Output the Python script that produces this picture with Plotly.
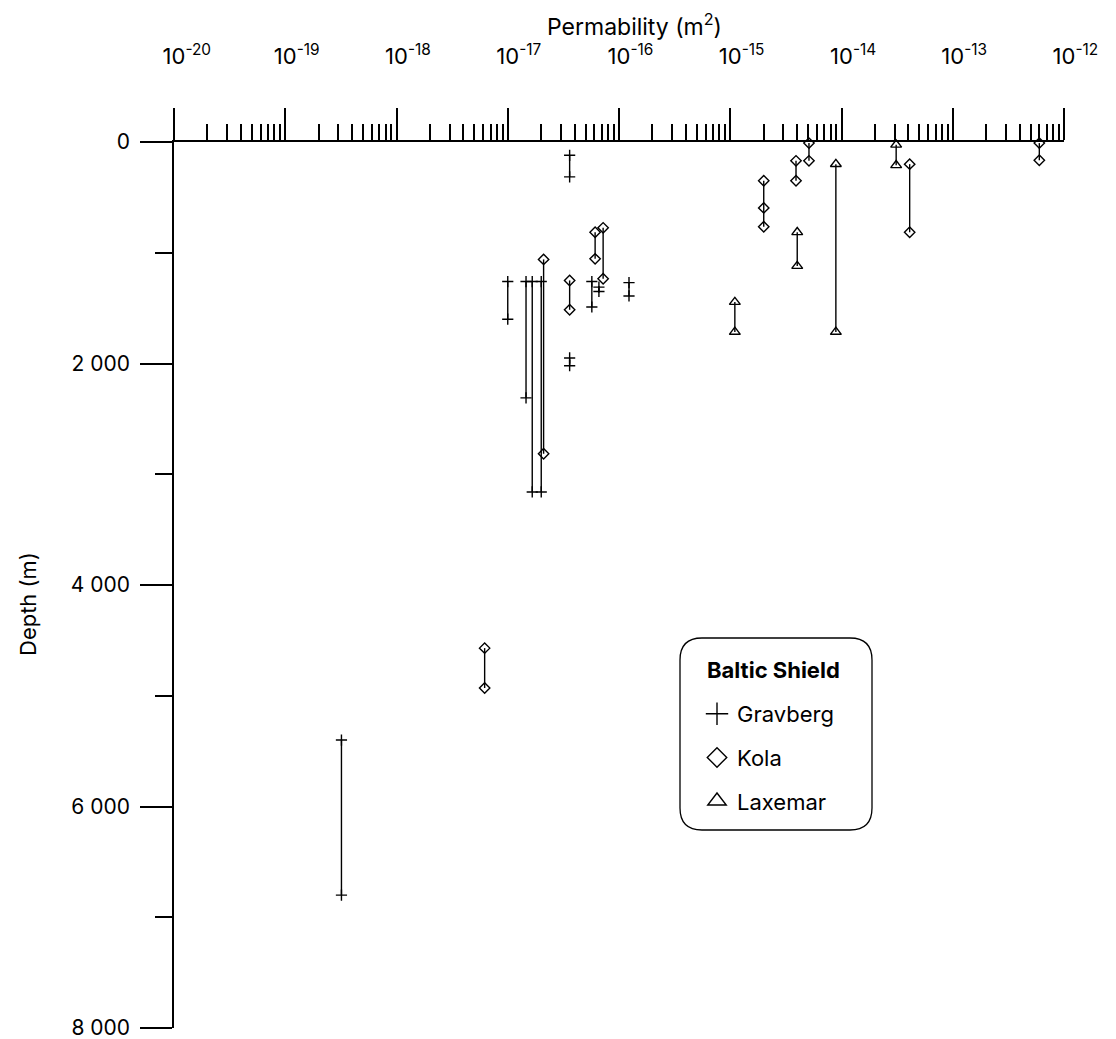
import plotly.graph_objects as go

# ---- data (permeability in m^2, depths in m) ----
gravberg_k = [3.2e-19, 1.0e-17, 1.46e-17, 1.66e-17, 2.0e-17, 3.6e-17, 3.6e-17, 5.7e-17, 6.6e-17, 1.23e-16]
gravberg_depths = [[5400, 6800], [1260, 1600], [1260, 2310], [1260, 3160], [1260, 3160],
                   [120, 315], [1950, 2020], [1260, 1490], [1310, 1350], [1270, 1390]]

kola_k = [6.2e-18, 2.1e-17, 3.6e-17, 6.1e-17, 7.2e-17, 2.0e-15, 3.9e-15, 5.1e-15, 4.1e-14, 6.0e-13]
kola_depths = [[4570, 4930], [1060, 2815], [1250, 1515], [815, 1055], [775, 1235],
               [350, 595, 765], [170, 350], [10, 170], [200, 815], [10, 165]]

laxemar_k = [1.1e-15, 4.0e-15, 8.9e-15, 3.1e-14]
laxemar_depths = [[1445, 1715], [815, 1120], [200, 1715], [25, 210]]

series_names = ["Gravberg", "Kola", "Laxemar"]
legend_title = "Baltic Shield"
x_exponents = [-20, -19, -18, -17, -16, -15, -14, -13, -12]
y_tickvals = [0, 2000, 4000, 6000, 8000]
y_ticktext = ["0", "2 000", "4 000", "6 000", "8 000"]

FONT = "Inter"
symbols = {"Gravberg": ("cross-thin-open", 8), "Kola": ("diamond-open", 8), "Laxemar": ("triangle-up-open", 9.5)}
legend_sizes = {"Gravberg": 16, "Kola": 15, "Laxemar": 16}

fig = go.Figure()
for name, ks, ds in [("Gravberg", gravberg_k, gravberg_depths),
                     ("Kola", kola_k, kola_depths),
                     ("Laxemar", laxemar_k, laxemar_depths)]:
    sym, sz = symbols[name]
    for k, d in zip(ks, ds):
        fig.add_trace(go.Scatter(
            x=[k] * len(d), y=d, mode="lines+markers",
            line=dict(color="black", width=1.4),
            marker=dict(symbol=sym, size=sz, color="black", line=dict(color="black", width=1.4)),
            showlegend=False, cliponaxis=False, legendgroup=name, hoverinfo="x+y"))

for name in series_names:
    sym, _ = symbols[name]
    fig.add_trace(go.Scatter(
        x=[None], y=[None], mode="markers", name=name, legendgroup=name,
        marker=dict(symbol=sym, size=legend_sizes[name], color="black",
                    line=dict(color="black", width=1.4)),
        showlegend=True))

W, H = 1116, 1039
L, R, T, B = 174, 52, 142, 11
pw, ph = W - L - R, H - T - B


def px2paper(px, py):
    return (px - L) / pw, (H - B - py) / ph


# rounded legend box
x0p, y0p, x1p, y1p, rad = 680, 638, 872, 830, 22
def P(px, py):
    a, b = px2paper(px, py)
    return f"{a:.5f},{b:.5f}"
path = (f"M {P(x0p+rad, y0p)} L {P(x1p-rad, y0p)} Q {P(x1p, y0p)} {P(x1p, y0p+rad)} "
        f"L {P(x1p, y1p-rad)} Q {P(x1p, y1p)} {P(x1p-rad, y1p)} "
        f"L {P(x0p+rad, y1p)} Q {P(x0p, y1p)} {P(x0p, y1p-rad)} "
        f"L {P(x0p, y0p+rad)} Q {P(x0p, y0p)} {P(x0p+rad, y0p)} Z")
fig.add_shape(type="path", path=path, xref="paper", yref="paper",
              line=dict(color="black", width=1.3), fillcolor="rgba(0,0,0,0)")

tx, ty = px2paper(705, 670)
fig.add_annotation(x=tx, y=ty, xref="paper", yref="paper", xanchor="left", yanchor="middle",
                   text=f"<b>{legend_title}</b>", showarrow=False,
                   font=dict(size=22, family=FONT, color="black"))

# axis titles
yx, yy = px2paper(28, 604)
fig.add_annotation(x=yx, y=yy, xref="paper", yref="paper", xanchor="center", yanchor="middle",
                   text="Depth (m)", textangle=-90, showarrow=False,
                   font=dict(size=22, family=FONT, color="black"))
ax_, ay_ = px2paper(634, 25)
fig.add_annotation(x=ax_, y=ay_, xref="paper", yref="paper", xanchor="center", yanchor="middle",
                   text="Permability (m<sup>2</sup>)", showarrow=False,
                   font=dict(size=23, family=FONT, color="black"))

# x tick labels: "10" centred on the tick, exponent hanging to the right
x_tickvals = [10.0 ** e for e in x_exponents]
x_ticktext = [f"<sup><span style='color:rgba(0,0,0,0)'>-{-e}</span></sup>10<sup>-{-e}</sup>"
              for e in x_exponents]

lx, ly = px2paper(697, 693)
fig.update_layout(
    width=W, height=H,
    margin=dict(l=L, r=R, t=T, b=B, autoexpand=False),
    plot_bgcolor="white", paper_bgcolor="white",
    font=dict(family=FONT, color="black", size=21),
    legend=dict(x=lx, y=ly, xanchor="left", yanchor="top",
                font=dict(size=22, family=FONT), bgcolor="rgba(0,0,0,0)",
                traceorder="grouped", tracegroupgap=12),
)

fig.update_xaxes(
    type="log", side="top", range=[-20, -12], automargin=False,
    tickmode="array", tickvals=x_tickvals, ticktext=x_ticktext,
    ticks="outside", ticklen=32, tickwidth=1.5, tickcolor="black",
    showline=True, linecolor="black", linewidth=1.5,
    showgrid=False, zeroline=False,
    minor=dict(ticks="outside", ticklen=16, tickwidth=1.5, tickcolor="black", dtick="D1", showgrid=False),
    ticklabelstandoff=35, ticklabeloverflow="allow",
    tickfont=dict(size=22, family=FONT),
)
fig.update_yaxes(
    range=[8000, 0], tickmode="array", tickvals=y_tickvals, ticktext=y_ticktext, automargin=False,
    ticks="outside", ticklen=32, tickwidth=1.5, tickcolor="black",
    showline=True, linecolor="black", linewidth=1.5,
    showgrid=False, zeroline=False,
    minor=dict(ticks="outside", ticklen=17, tickwidth=1.5, tickcolor="black", tick0=0, dtick=1000, showgrid=False),
    ticklabelstandoff=6, ticklabeloverflow="allow",
    tickfont=dict(size=21, family=FONT),
)

fig.write_html("out.html", post_script="document.body.style.margin='0';",
               config={"displayModeBar": False})
